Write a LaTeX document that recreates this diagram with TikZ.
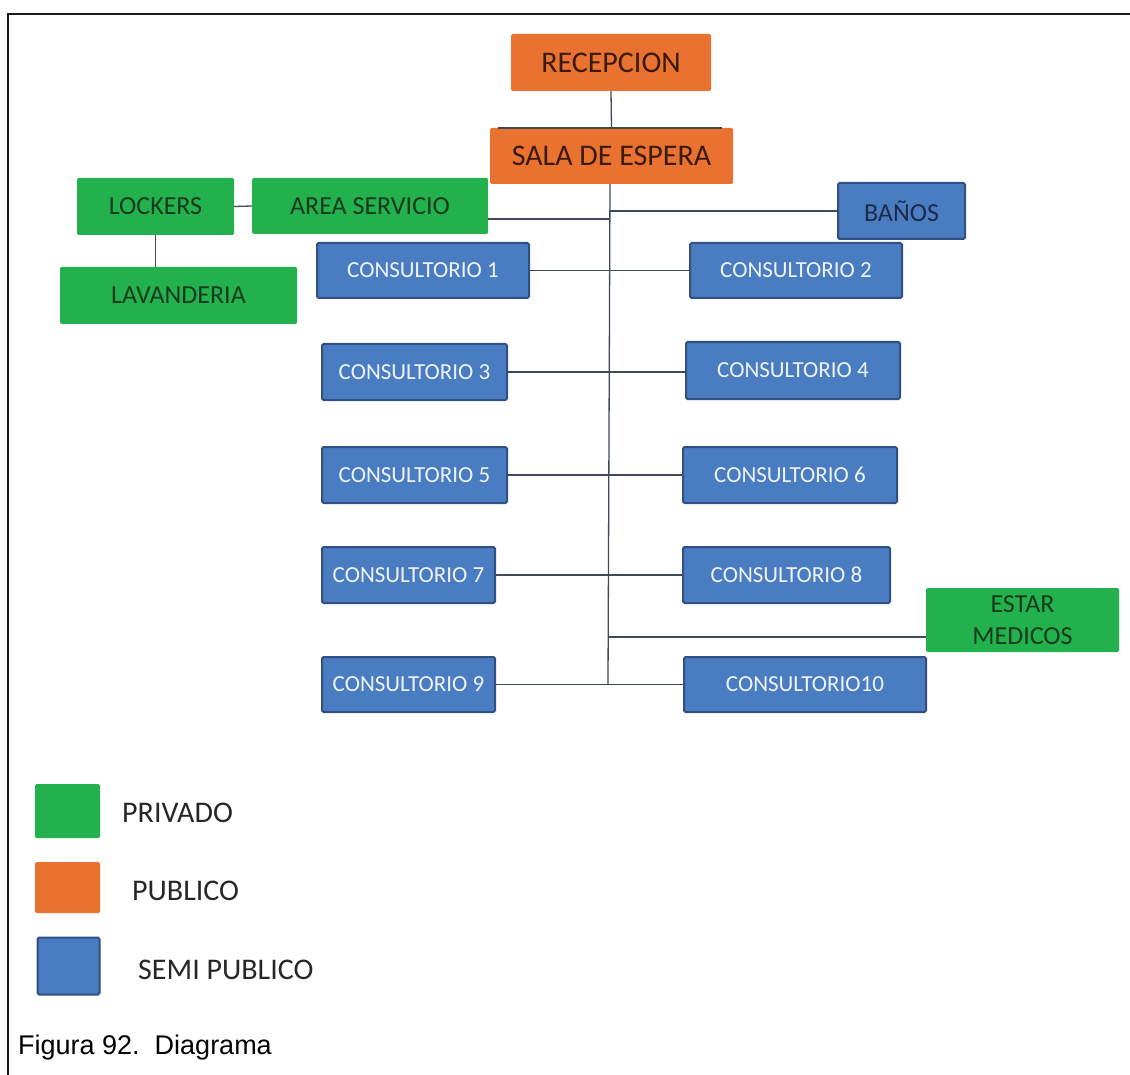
\documentclass[tikz,border=0pt]{standalone}
\usepackage{fontspec}
\setmainfont{Carlito}
\newfontfamily\arialfont{Liberation Sans}
\definecolor{pgreen}{HTML}{22B14C}
\definecolor{porange}{HTML}{EA7230}
\definecolor{pblue}{HTML}{4A7CC2}
\definecolor{pblueedge}{HTML}{2F4F85}
\definecolor{linec}{HTML}{3E4A5A}
\definecolor{dgreentext}{HTML}{163A1E}
\definecolor{dorangetext}{HTML}{3A1A08}
\definecolor{lighttext}{HTML}{EEF3FA}
\definecolor{navytext}{HTML}{1B2A4A}
\begin{document}
\begin{tikzpicture}[x=1pt,y=-1pt,
  box/.style={rectangle,inner sep=0pt,outer sep=0pt,rounded corners=1.5pt},
  privbox/.style={box,fill=pgreen,text=dgreentext,font=\fontsize{26}{32}\selectfont},
  pubbox/.style={box,fill=porange,text=dorangetext,font=\fontsize{30}{34}\selectfont},
  semibox/.style={box,fill=pblue,draw=pblueedge,line width=2pt,text=lighttext,font=\fontsize{23}{28}\selectfont},
  conn/.style={draw=linec,line width=1.3pt},
  legtext/.style={anchor=west,inner sep=0pt,text=black!85,font=\fontsize{30}{34}\selectfont}
]
\useasboundingbox (0,0) rectangle (1130,1075);
% frame
\draw[line width=2.5pt,black!90] (8,1075) -- (8,14) -- (1130,14);

% nodes
\node[pubbox,minimum width=200pt,minimum height=57pt] (rec) at (611,62.5) {RECEPCION};
\node[pubbox,minimum width=243pt,minimum height=56pt] (sala) at (611.5,156) {SALA DE ESPERA};
\node[privbox,minimum width=236pt,minimum height=56pt] (area) at (370,206) {AREA SERVICIO};
\node[privbox,minimum width=157pt,minimum height=57pt] (lock) at (155.5,206.5) {LOCKERS};
\node[privbox,minimum width=237pt,minimum height=57pt] (lav) at (178.5,295.5) {LAVANDERIA};
\node[semibox,text=navytext,font=\fontsize{26}{30}\selectfont,minimum width=127pt,minimum height=56pt] (banos) at (901.5,211) {BAÑOS};
\node[semibox,minimum width=212pt,minimum height=55pt] (c1) at (423,270.5) {CONSULTORIO 1};
\node[semibox,minimum width=212pt,minimum height=55pt] (c2) at (796,270.5) {CONSULTORIO 2};
\node[semibox,minimum width=185pt,minimum height=56pt] (c3) at (414.5,372) {CONSULTORIO 3};
\node[semibox,minimum width=214pt,minimum height=57pt] (c4) at (793,370.5) {CONSULTORIO 4};
\node[semibox,minimum width=185pt,minimum height=56pt] (c5) at (414.5,475) {CONSULTORIO 5};
\node[semibox,minimum width=214pt,minimum height=56pt] (c6) at (790,475) {CONSULTORIO 6};
\node[semibox,minimum width=173pt,minimum height=56pt] (c7) at (408.5,575) {CONSULTORIO 7};
\node[semibox,minimum width=207pt,minimum height=56pt] (c8) at (786.5,575) {CONSULTORIO 8};
\node[privbox,align=center,minimum width=193pt,minimum height=64pt] (estar) at (1022.5,620) {ESTAR\\MEDICOS};
\node[semibox,minimum width=173pt,minimum height=55pt] (c9) at (408.5,684.5) {CONSULTORIO 9};
\node[semibox,minimum width=242pt,minimum height=55pt] (c10) at (805,684.5) {CONSULTORIO10};

% trunk coordinates
\coordinate (ttop) at (610,184);
\coordinate (tbot) at (608,684);
\coordinate (tarea) at (610,219);
\coordinate (testar) at (608,637);

% connectors
\draw[conn] (rec.south) -- (sala.north);
\draw[conn] ([xshift=-114pt]sala.north) -- ([xshift=110pt]sala.north);
\draw[conn] (ttop) -- (tbot);
\draw[conn] (area.east |- tarea) -- (tarea);
\draw[conn] (banos.west) -- (banos.west -| ttop);
\draw[conn] (lock.east) -- (area.west);
\draw[conn] (lock.south) -- (lock.south |- lav.north);
\draw[conn] (c1.east) -- (c2.west);
\draw[conn] (c3.east) -- (c4.west |- c3.east);
\draw[conn] (c5.east) -- (c6.west);
\draw[conn] (c7.east) -- (c8.west);
\draw[conn] (estar.west |- testar) -- (testar);
\draw[conn] (c9.east) -- (c10.west);

% legend
\node[box,fill=pgreen,minimum width=65pt,minimum height=54pt] (lg) at (67.5,811) {};
\node[box,fill=porange,minimum width=65pt,minimum height=51pt] (lo) at (67.5,887.5) {};
\node[semibox,minimum width=62pt,minimum height=57pt] (lb) at (68.5,966) {};
\node[legtext] (lgt) at (122,813) {PRIVADO};
\node[legtext] (lot) at (132,891) {PUBLICO};
\node[legtext] (lbt) at (138,970) {SEMI PUBLICO};

% caption
\node[anchor=base west,inner sep=0pt,font=\arialfont\fontsize{27}{32}\selectfont] (cap) at (18,1054) {Figura 92.\ \ Diagrama};
\end{tikzpicture}
\end{document}
